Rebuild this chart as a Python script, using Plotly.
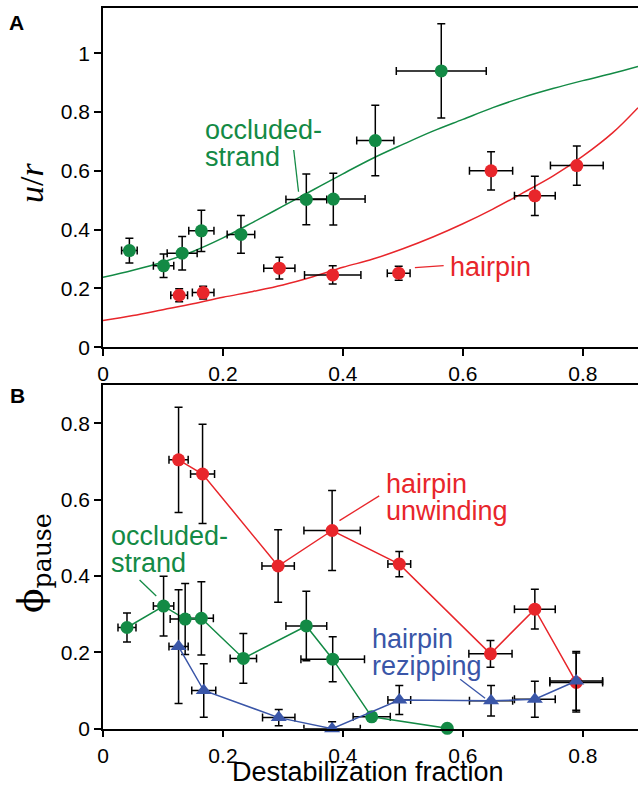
import plotly.graph_objects as go

# ---------------- Panel A data ----------------
a_occ_x = [0.044, 0.101, 0.132, 0.164, 0.230, 0.339, 0.384, 0.454, 0.564]
a_occ_y = [0.329, 0.277, 0.320, 0.396, 0.384, 0.503, 0.504, 0.703, 0.940]
a_occ_xerr = [0.013, 0.017, 0.025, 0.021, 0.023, 0.034, 0.053, 0.031, 0.075]
a_occ_yerr = [0.042, 0.040, 0.057, 0.070, 0.064, 0.086, 0.088, 0.120, 0.160]

a_hp_x = [0.127, 0.167, 0.294, 0.383, 0.493, 0.647, 0.720, 0.790]
a_hp_y = [0.177, 0.186, 0.269, 0.246, 0.252, 0.600, 0.515, 0.618]
a_hp_xerr = [0.014, 0.018, 0.026, 0.047, 0.019, 0.036, 0.034, 0.044]
a_hp_yerr = [0.022, 0.022, 0.037, 0.031, 0.024, 0.065, 0.067, 0.067]

curve_x = [0, 0.05, 0.1, 0.15, 0.2, 0.25, 0.3, 0.35, 0.4, 0.45, 0.5, 0.55,
           0.6, 0.65, 0.7, 0.75, 0.8, 0.85, 0.892]
curve_occ_y = [0.238, 0.262, 0.290, 0.326, 0.372, 0.425, 0.480, 0.535, 0.590,
               0.643, 0.690, 0.735, 0.775, 0.815, 0.850, 0.880, 0.907, 0.932, 0.955]
curve_hp_y = [0.091, 0.108, 0.128, 0.148, 0.170, 0.190, 0.212, 0.240, 0.272,
              0.300, 0.335, 0.375, 0.420, 0.470, 0.525, 0.582, 0.650, 0.730, 0.815]

# ---------------- Panel B data ----------------
b_unw_x = [0.126, 0.166, 0.292, 0.382, 0.494, 0.646, 0.720, 0.789]
b_unw_y = [0.704, 0.667, 0.426, 0.519, 0.431, 0.196, 0.313, 0.121]
b_unw_xerr = [0.016, 0.020, 0.027, 0.047, 0.019, 0.036, 0.034, 0.044]
b_unw_yerr = [0.138, 0.130, 0.095, 0.105, 0.033, 0.035, 0.052, 0.077]

b_occ_x = [0.040, 0.101, 0.137, 0.164, 0.234, 0.339, 0.383, 0.448, 0.574]
b_occ_y = [0.265, 0.321, 0.287, 0.289, 0.184, 0.269, 0.182, 0.031, 0.001]
b_occ_xerr = [0.015, 0.017, 0.025, 0.020, 0.022, 0.034, 0.053, 0.031, 0.0]
b_occ_yerr = [0.038, 0.078, 0.093, 0.096, 0.065, 0.091, 0.059, 0.0, 0.0]

b_rez_x = [0.126, 0.168, 0.293, 0.382, 0.494, 0.647, 0.720, 0.789]
b_rez_y = [0.215, 0.100, 0.029, 0.000, 0.075, 0.073, 0.077, 0.125]
b_rez_xerr = [0.016, 0.020, 0.027, 0.047, 0.019, 0.036, 0.034, 0.044]
b_rez_yerr = [0.149, 0.070, 0.021, 0.018, 0.038, 0.040, 0.047, 0.077]
b_rez_yerr_minus = [0.149, 0.070, 0.021, 0.0, 0.038, 0.040, 0.047, 0.077]

x_ticks = [0, 0.2, 0.4, 0.6, 0.8]
a_y_ticks = [0, 0.2, 0.4, 0.6, 0.8, 1]
b_y_ticks = [0, 0.2, 0.4, 0.6, 0.8]

GREEN = "#138a45"
RED = "#e8262b"
BLUE = "#3a56a8"
SANS = "Liberation Sans, Arial, sans-serif"
SERIF = "Liberation Serif, Times New Roman, serif"


def ebar(arr, minus=None):
    d = dict(type="data", array=arr, color="black", thickness=1.5, width=4, visible=True)
    if minus is not None:
        d["symmetric"] = False
        d["arrayminus"] = minus
    return d


fig = go.Figure()

# Panel A curves
fig.add_trace(go.Scatter(x=curve_x, y=curve_occ_y, mode="lines",
                         line=dict(color=GREEN, width=1.5, shape="spline"),
                         xaxis="x", yaxis="y", showlegend=False, hoverinfo="skip"))
fig.add_trace(go.Scatter(x=curve_x, y=curve_hp_y, mode="lines",
                         line=dict(color=RED, width=1.5, shape="spline"),
                         xaxis="x", yaxis="y", showlegend=False, hoverinfo="skip"))
# Panel A points
fig.add_trace(go.Scatter(x=a_occ_x, y=a_occ_y, mode="markers",
                         marker=dict(color=GREEN, size=13, line=dict(width=0)),
                         error_x=ebar(a_occ_xerr), error_y=ebar(a_occ_yerr),
                         xaxis="x", yaxis="y", showlegend=False, cliponaxis=False))
fig.add_trace(go.Scatter(x=a_hp_x, y=a_hp_y, mode="markers",
                         marker=dict(color=RED, size=13, line=dict(width=0)),
                         error_x=ebar(a_hp_xerr), error_y=ebar(a_hp_yerr),
                         xaxis="x", yaxis="y", showlegend=False, cliponaxis=False))

# Panel B
fig.add_trace(go.Scatter(x=b_occ_x, y=b_occ_y, mode="lines+markers",
                         line=dict(color=GREEN, width=1.5),
                         marker=dict(color=GREEN, size=13, line=dict(width=0)),
                         error_x=ebar(b_occ_xerr), error_y=ebar(b_occ_yerr),
                         xaxis="x2", yaxis="y2", showlegend=False, cliponaxis=False))
fig.add_trace(go.Scatter(x=b_unw_x, y=b_unw_y, mode="lines+markers",
                         line=dict(color=RED, width=1.5),
                         marker=dict(color=RED, size=13, line=dict(width=0)),
                         error_x=ebar(b_unw_xerr), error_y=ebar(b_unw_yerr),
                         xaxis="x2", yaxis="y2", showlegend=False, cliponaxis=False))
fig.add_trace(go.Scatter(x=b_rez_x, y=b_rez_y, mode="lines+markers",
                         line=dict(color=BLUE, width=1.5),
                         marker=dict(color=BLUE, size=14, symbol="triangle-up", line=dict(width=0)),
                         error_x=ebar(b_rez_xerr), error_y=ebar(b_rez_yerr, b_rez_yerr_minus),
                         xaxis="x2", yaxis="y2", showlegend=False, cliponaxis=False))

axis_common = dict(showline=True, linecolor="black", linewidth=1.5, ticks="outside",
                   ticklen=7, tickwidth=1.5, tickcolor="black", showgrid=False,
                   zeroline=False, tickfont=dict(family=SANS, size=21, color="black"),
                   automargin=False)

fig.update_layout(
    width=638, height=787,
    margin=dict(l=103, r=0, t=0, b=0),
    paper_bgcolor="white", plot_bgcolor="white",
    xaxis=dict(domain=[0, 1], range=[0, 0.892], tickvals=x_ticks, anchor="y",
               mirror=True, **axis_common),
    yaxis=dict(domain=[0.5587, 0.9895], range=[0, 1.153], tickvals=a_y_ticks,
               anchor="x", **axis_common),
    xaxis2=dict(domain=[0, 1], range=[0, 0.892], tickvals=x_ticks, anchor="y2",
                mirror=True, **axis_common),
    yaxis2=dict(domain=[0.0741, 0.5108], range=[0, 0.9], tickvals=b_y_ticks,
                anchor="x2", **axis_common),
)

ann = []


def text(x, y, s, color, xref="x", yref="y", size=27, family=SANS, xanchor="left", **kw):
    ann.append(dict(x=x, y=y, xref=xref, yref=yref, text=s, showarrow=False,
                    xanchor=xanchor, yanchor="middle",
                    font=dict(family=family, size=size, color=color), **kw))


def leader(x0, y0, x1, y1, color, xref="x", yref="y"):
    fig.add_shape(type="line", x0=x0, y0=y0, x1=x1, y1=y1, xref=xref, yref=yref,
                  line=dict(color=color, width=1.3))


# Panel A labels
text(0.167, 0.738, "occluded-", GREEN)
text(0.167, 0.648, "strand", GREEN)
leader(0.318, 0.671, 0.326, 0.529, GREEN)
text(0.576, 0.273, "hairpin", RED)
leader(0.520, 0.271, 0.568, 0.278, RED)

# Panel B labels
text(0.0093, 0.505, "occluded-", GREEN, xref="x2", yref="y2")
text(0.0093, 0.433, "strand", GREEN, xref="x2", yref="y2")
leader(0.061, 0.3895, 0.0888, 0.3476, GREEN, xref="x2", yref="y2")
text(0.4677, 0.640, "hairpin", RED, xref="x2", yref="y2")
text(0.4677, 0.570, "unwinding", RED, xref="x2", yref="y2")
leader(0.4605, 0.6096, 0.3943, 0.5449, RED, xref="x2", yref="y2")
text(0.4455, 0.234, "hairpin", BLUE, xref="x2", yref="y2")
text(0.4455, 0.164, "rezipping", BLUE, xref="x2", yref="y2")
leader(0.5955, 0.1294, 0.637, 0.0796, BLUE, xref="x2", yref="y2")

# Panel letters
text(-0.161, 0.972, "<b>A</b>", "black", xref="paper", yref="paper", size=21, xanchor="center")
text(-0.160, 0.4975, "<b>B</b>", "black", xref="paper", yref="paper", size=21, xanchor="center")

# Axis titles
text(-0.1327, 0.7675, "<i>u</i>/<i>r</i>", "black", xref="paper", yref="paper",
     size=34, family=SERIF, xanchor="center", textangle=-90)
text(-0.1308, 0.2846, "ϕ<sub>pause</sub>", "black", xref="paper", yref="paper",
     size=36, family="DejaVu Serif, serif", xanchor="center", textangle=-90)
text(0.495, 0.019, "Destabilization fraction", "black", xref="paper", yref="paper",
     size=27, xanchor="center")

fig.update_layout(annotations=ann)
fig.write_html("out.html", config={"displayModeBar": False},
               post_script="document.body.style.margin='0';document.body.style.padding='0';")
